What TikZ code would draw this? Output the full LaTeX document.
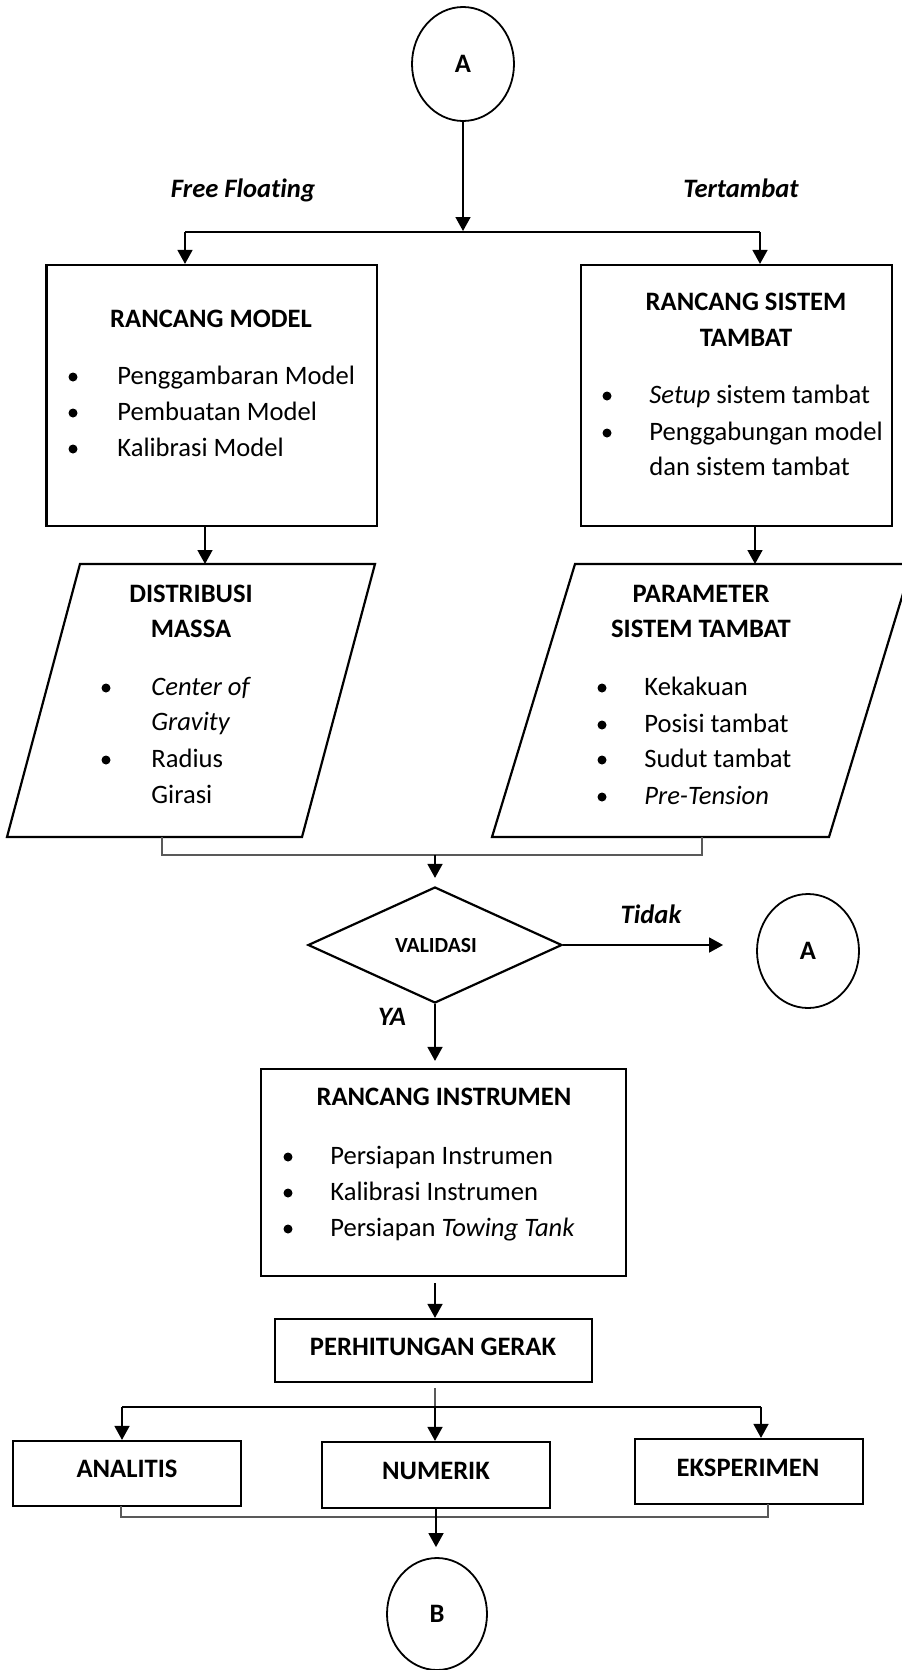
\documentclass[tikz,border=0pt]{standalone}
\usepackage{fontspec}
\setmainfont[Ligatures=NoCommon]{Carlito}
\usetikzlibrary{arrows.meta,shapes.geometric}
\begin{document}
\begin{tikzpicture}[x=0.5pt,y=-0.5pt,
  font=\fontsize{13.3pt}{18pt}\selectfont,
  boxline/.style={line width=1.1pt},
  procbox/.style={draw, boxline, rectangle, inner sep=0pt},
  term/.style={draw, line width=0.9pt, ellipse, inner sep=0pt},
  flow/.style={line width=0.8pt, -{Triangle[length=7pt,width=7.5pt]}},
  thinblack/.style={line width=0.6pt},
  thingray/.style={line width=0.6pt, draw=black!65},
  head/.style={anchor=base, inner sep=0pt, font=\fontsize{13.3pt}{18pt}\selectfont\bfseries},
  branch/.style={anchor=base, inner sep=0pt, font=\fontsize{13.3pt}{18pt}\selectfont\bfseries\itshape},
  item/.style={anchor=base west, inner sep=0pt},
  dot/.style={circle, fill, inner sep=0pt, minimum size=4.5pt},
]
\useasboundingbox (0,0) rectangle (901,1670);

% start connector and the two branches
\node[term, minimum width=51pt, minimum height=57pt] (A1) at (463,64) {};
\node[head] (A1t) at (463,72) {A};
\coordinate (split) at (463,231);
\draw[flow] (A1) -- (split);
\coordinate (sL) at (185,232);
\coordinate (sR) at (760,232);
\draw[thinblack] (sL) -- (sR);
\node[branch] (ff) at (243,197) {Free Floating};
\node[branch] (tt) at (741,197) {Tertambat};

% model design
\node[procbox, minimum width=165.25pt, minimum height=130.5pt] (RM) at (211.75,395.5) {};
\draw[flow] (sL) -- (sL |- RM.north);
\node[head] (RMt) at (211,327) {RANCANG MODEL};
\node[dot] (rm1) at (73,377) {};
\node[item] (rm1t) at (117,384) {Penggambaran Model};
\node[dot] (rm2) at (73,413) {};
\node[item] (rm2t) at (117,420) {Pembuatan Model};
\node[dot] (rm3) at (73,449) {};
\node[item] (rm3t) at (117,456) {Kalibrasi Model};

% mooring system design
\node[procbox, minimum width=155.5pt, minimum height=130.5pt] (RS) at (736.5,395.5) {};
\draw[flow] (sR) -- (sR |- RS.north);
\node[head] (RSt1) at (746,310) {RANCANG SISTEM};
\node[head] (RSt2) at (746,346) {TAMBAT};
\node[dot] (rs1) at (607,396) {};
\node[item] (rs1t) at (649,403) {\textit{Setup} sistem tambat};
\node[dot] (rs2) at (607,433) {};
\node[item] (rs2t) at (649,440) {Penggabungan model};
\node[item] (rs3t) at (649,475) {dan sistem tambat};

% mass distribution (data)
\draw[boxline] (80,564) -- (375,564) -- (302,837) -- (7,837) -- cycle;
\coordinate (dmTop) at (205,564);
\coordinate (dmBot) at (162,837);
\draw[flow] (RM.south -| dmTop) -- (dmTop);
\node[head] (DMt1) at (191,602) {DISTRIBUSI};
\node[head] (DMt2) at (191,637) {MASSA};
\node[dot] (dm1) at (106,688) {};
\node[item] (dm1t) at (151,695) {\textit{Center of}};
\node[item] (dm2t) at (151,730) {\textit{Gravity}};
\node[dot] (dm3) at (106,760) {};
\node[item] (dm3t) at (151,767) {Radius};
\node[item] (dm4t) at (151,803) {Girasi};

% mooring parameters (data)
\draw[boxline] (575,564) -- (912,564) -- (829,837) -- (492,837) -- cycle;
\coordinate (psTop) at (755,564);
\coordinate (psBot) at (702,837);
\draw[flow] (RS.south -| psTop) -- (psTop);
\node[head] (PSt1) at (701,602) {PARAMETER};
\node[head] (PSt2) at (701,637) {SISTEM TAMBAT};
\node[dot] (ps1) at (602,688) {};
\node[item] (ps1t) at (644,695) {Kekakuan};
\node[dot] (ps2) at (602,725) {};
\node[item] (ps2t) at (644,732) {Posisi tambat};
\node[dot] (ps3) at (602,760) {};
\node[item] (ps3t) at (644,767) {Sudut tambat};
\node[dot] (ps4) at (602,797) {};
\node[item] (ps4t) at (644,804) {\textit{Pre-Tension}};

% validation
\node[diamond, draw, boxline, inner sep=0pt, minimum width=127pt, minimum height=58pt] (V) at (435,945) {};
\node[anchor=base, inner sep=0pt, font=\fontsize{10.8pt}{12pt}\selectfont\bfseries] (Vt) at (436,952) {VALIDASI};
\coordinate (j1) at (435,855);
\draw[thingray] (dmBot) -- (dmBot |- j1) -- (psBot |- j1) -- (psBot);
\draw[flow, shorten >=4pt] (j1) -- (V.north);

\node[term, minimum width=51pt, minimum height=57pt] (A2) at (808,951) {};
\node[head] (A2t) at (808,959) {A};
\draw[flow, shorten >=16.5pt] (V.east) -- (V.east -| A2.west);
\node[branch] (tidak) at (651,923) {Tidak};
\node[branch] (ya) at (392,1025) {YA};

% instrument design
\node[procbox, minimum width=182.5pt, minimum height=103.5pt] (RI) at (443.5,1172.5) {};
\draw[flow, shorten >=3.5pt] (V.south) -- (V.south |- RI.north);
\node[head] (RIt) at (444,1105) {RANCANG INSTRUMEN};
\node[dot] (ri1) at (288,1157) {};
\node[item] (ri1t) at (330,1164) {Persiapan Instrumen};
\node[dot] (ri2) at (288,1193) {};
\node[item] (ri2t) at (330,1200) {Kalibrasi Instrumen};
\node[dot] (ri3) at (288,1229) {};
\node[item] (ri3t) at (330,1236) {Persiapan \textit{Towing Tank}};

% motion calculation
\node[procbox, minimum width=158.5pt, minimum height=31.5pt] (PG) at (433.5,1350.5) {};
\coordinate (pgIn) at (435,1276);
\draw[flow, shorten <=3.5pt] (pgIn) -- (pgIn |- PG.north);
\node[head] (PGt) at (433,1355) {PERHITUNGAN GERAK};

% three methods
\coordinate (j2) at (435,1407);
\coordinate (fL) at (122,1407);
\coordinate (fR) at (761,1407);
\draw[thingray, shorten <=2.5pt] (j2 |- PG.south) -- (j2);
\draw[thinblack] (fL) -- (fR);

\node[procbox, minimum width=114pt, minimum height=32.5pt] (AN) at (127,1473.5) {};
\node[procbox, minimum width=114pt, minimum height=33pt] (NU) at (436,1475) {};
\node[procbox, minimum width=114pt, minimum height=32.5pt] (EK) at (749,1471.5) {};
\draw[flow] (fL) -- (fL |- AN.north);
\draw[flow] (j2) -- (j2 |- NU.north);
\draw[flow] (fR) -- (fR |- EK.north);
\node[head] (ANt) at (127,1477) {ANALITIS};
\node[head] (NUt) at (436,1479) {NUMERIK};
\node[head] (EKt) at (748,1476) {EKSPERIMEN};

% end connector
\coordinate (anBot) at (121,1506);
\coordinate (ekBot) at (768,1504);
\coordinate (j3) at (437,1517);
\draw[thingray] (anBot) -- (anBot |- j3) -- (ekBot |- j3) -- (ekBot);
\node[term, minimum width=50pt, minimum height=56pt] (B) at (437,1614) {};
\node[head] (Bt) at (437,1622) {B};
\draw[flow, shorten >=5pt] (NU.south) -- (NU.south |- B.north);
\end{tikzpicture}
\end{document}
